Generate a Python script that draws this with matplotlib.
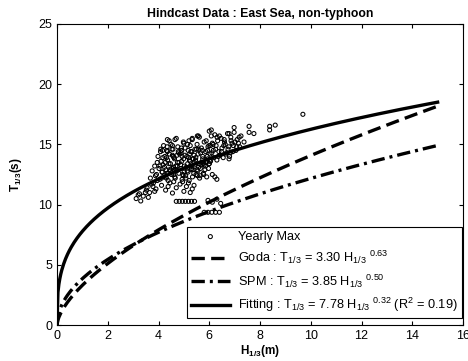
import numpy as np
import matplotlib
matplotlib.use("Agg")
import matplotlib.pyplot as plt

plt.rcParams['font.family'] = ['Liberation Sans', 'DejaVu Sans']
plt.rcParams['mathtext.fontset'] = 'custom'
plt.rcParams['mathtext.rm'] = 'Liberation Sans'
plt.rcParams['mathtext.it'] = 'Liberation Sans:italic'
plt.rcParams['mathtext.bf'] = 'Liberation Sans:bold'

title = "Hindcast Data : East Sea, non-typhoon"

# Yearly maximum (H1/3 [m], T1/3 [s])
yearly_H = [
    # core, lower band
    4.05, 4.22, 4.38, 4.51, 4.66, 4.80, 4.93, 5.07, 5.21, 5.34, 5.48, 5.62, 5.77, 5.90,
    4.15, 4.44, 4.72, 5.01, 5.29, 5.55,
    # core, middle band
    4.02, 4.18, 4.30, 4.47, 4.59, 4.75, 4.88, 5.02, 5.15, 5.30, 5.43, 5.58, 5.70, 5.85, 5.97,
    4.10, 4.36, 4.63, 4.91, 5.19, 5.46, 5.74, 6.02, 4.25, 4.55, 4.84, 5.12, 5.40, 5.66, 5.92,
    4.12, 4.40, 4.68, 4.97, 5.24, 5.52, 5.80, 4.32, 4.60, 4.89, 5.16, 5.37, 5.64, 5.88,
    4.06, 4.14, 4.27, 4.35, 4.43, 4.52, 4.61, 4.69, 4.78, 4.87, 4.96, 5.04, 5.13, 5.22,
    5.31, 5.39, 5.47, 5.56, 5.65, 5.74, 5.83, 5.91,
    4.09, 4.17, 4.26, 4.34, 4.46, 4.53, 4.64, 4.73, 4.81, 4.90, 4.99, 5.08, 5.17, 5.26,
    5.35, 5.44, 5.53, 5.61, 5.69, 5.78, 5.86, 5.94,
    4.24, 4.41, 4.58, 4.74, 4.91, 5.09, 5.23, 5.41, 5.59, 5.76, 5.93, 4.31, 4.62, 4.93,
    5.14, 5.36, 5.68, 5.99,
    # core, upper band
    4.08, 4.33, 4.57, 4.79, 5.05, 5.27, 5.50, 5.73, 5.95, 4.20, 4.49, 4.76, 5.00, 5.25,
    5.52, 5.80, 6.05, 4.42, 4.70, 4.98, 5.33, 5.61, 5.88, 6.12,
    # upper-right extension
    6.05, 6.18, 6.30, 6.42, 6.55, 6.68, 6.80, 6.93, 7.05, 7.20, 6.10, 6.25, 6.38, 6.50,
    6.63, 6.77, 6.90, 7.02, 6.15, 6.33, 6.47, 6.60, 6.85, 7.10, 6.22, 6.40, 6.72, 6.98,
    7.25, 6.08, 6.08, 6.31, 6.59, 6.86, 7.37, 6.00,
    6.03, 6.16, 6.27, 6.36, 6.48, 6.57, 6.66, 6.74, 6.83, 6.95, 7.08, 7.15,
    # left tail
    3.12, 3.25, 3.40, 3.52, 3.65, 3.78, 3.90, 3.30, 3.48, 3.60, 3.72, 3.85, 3.95, 3.20,
    3.55, 3.80, 3.68, 3.92, 3.75, 3.85, 3.95, 3.88, 3.98,
    # lower scatter
    4.12, 4.28, 4.45, 4.55, 4.70, 4.85, 5.00, 5.10, 5.25, 5.40, 4.95, 5.18, 4.60, 4.38, 5.33,
    # rows of low values
    4.70, 4.82, 4.94, 5.06, 5.18, 5.30, 5.42,
    5.95, 6.12, 6.30, 6.45,
    5.80, 5.95, 6.10, 6.25, 6.40,
    6.12, 6.30, 6.22, 6.78, 6.00,
    # top / outliers
    9.69, 8.38, 8.60, 8.38, 7.57, 7.57, 7.76, 6.98, 6.78, 7.18, 4.35, 4.65, 4.16, 4.35,
    4.55, 5.53, 5.20, 5.33, 5.57, 6.00,
]
yearly_T = [
    12.1, 12.4, 12.0, 12.5, 12.2, 12.6, 12.1, 12.4, 12.0, 12.3, 12.5, 12.2, 12.6, 12.3,
    12.7, 12.9, 12.8, 12.7, 12.9, 12.8,
    13.0, 13.3, 12.9, 13.4, 13.1, 13.5, 13.0, 13.2, 13.4, 13.0, 13.3, 13.1, 13.5, 13.2, 13.0,
    13.6, 13.7, 13.8, 13.6, 13.9, 13.7, 13.8, 13.6, 14.0, 14.1, 14.2, 14.0, 14.1, 14.3, 14.0,
    12.2, 12.6, 13.2, 12.4, 13.6, 12.9, 13.3, 13.9, 12.5, 14.3, 12.7, 13.8, 12.4, 13.5,
    13.2, 12.7, 13.5, 12.6, 14.2, 13.0, 13.9, 12.9, 14.4, 13.3, 12.5, 14.1, 12.8, 13.7,
    14.4, 12.6, 13.9, 14.2, 13.0, 14.0, 12.9, 13.6,
    14.6, 13.9, 12.3, 14.8, 12.8, 14.6, 12.3, 14.1, 13.5, 14.7, 13.8, 12.2, 14.5, 13.2,
    13.8, 14.6, 12.4, 13.4, 14.7, 12.5, 14.4, 13.8,
    13.1, 13.4, 14.0, 13.2, 14.5, 13.1, 14.2, 13.5, 14.6, 13.4, 14.5, 12.2, 12.9, 14.0,
    15.0, 12.9, 13.3, 14.9,
    14.4, 14.5, 14.6, 14.3, 14.7, 14.4, 14.6, 14.5, 14.8, 14.9, 15.0, 14.8, 15.1, 14.9,
    15.0, 15.2, 14.9, 15.3, 15.5, 15.2, 15.4, 15.6, 15.3, 15.1,
    13.6, 13.9, 13.7, 14.1, 13.9, 14.3, 14.0, 14.4, 14.5, 14.8, 14.3, 14.6, 14.4, 14.7,
    15.0, 14.8, 15.1, 15.2, 15.0, 15.3, 15.5, 15.2, 15.6, 15.4, 15.8, 15.7, 15.9, 16.0,
    15.7, 16.2, 15.7, 15.6, 15.4, 15.3, 15.2, 13.4,
    14.2, 14.5, 14.9, 14.0, 14.4, 14.9, 14.2, 14.6, 14.3, 14.9, 14.8, 15.1,
    10.5, 10.9, 10.7, 11.2, 11.0, 11.5, 11.3, 10.3, 11.0, 10.6, 11.7, 11.1, 12.0, 10.8,
    11.4, 11.8, 12.2, 12.5, 12.8, 13.2, 13.5, 12.4, 14.0,
    11.6, 11.2, 11.8, 10.96, 11.4, 11.7, 11.1, 11.5, 11.0, 11.6, 11.9, 11.8, 11.9, 11.5, 11.3,
    10.27, 10.27, 10.27, 10.27, 10.27, 10.27, 10.27,
    10.35, 10.2, 10.45, 10.1,
    9.36, 9.36, 9.36, 9.36, 9.36,
    12.5, 12.1, 12.3, 13.8, 13.4,
    17.5, 16.5, 16.6, 16.2, 16.5, 16.0, 15.9, 16.4, 15.9, 15.6, 15.4, 15.4, 14.5, 14.4,
    14.9, 15.7, 15.3, 15.5, 15.7, 16.1,
]

# Empirical formulas T = a * H^b
formula_names = ["Goda", "SPM", "Fitting"]
formula_a = [3.30, 3.85, 7.78]
formula_b = [0.63, 0.50, 0.32]
formula_Hmax = 15.0

xticks = [0, 2, 4, 6, 8, 10, 12, 14, 16]
yticks = [0, 5, 10, 15, 20, 25]

W, H = 468, 361
fig = plt.figure(figsize=(W / 100, H / 100), dpi=100)
L, R, T, B = 57, 463, 24, 325
ax = fig.add_axes([L / W, 1 - B / H, (R - L) / W, (B - T) / H])

h = np.linspace(0.0, formula_Hmax, 400)
styles = [dict(ls=(0, (4.0, 1.9)), lw=2.4),
          dict(ls=(0, (4.0, 1.5, 0.9, 1.5)), lw=2.4),
          dict(ls='-', lw=2.4)]

sc = ax.scatter(yearly_H, yearly_T, s=8.5, facecolors='none', edgecolors='black',
                linewidths=0.75, zorder=3)
lines = []
for name, a, b, st in zip(formula_names, formula_a, formula_b, styles):
    ln, = ax.plot(h, a * h ** b, color='black', zorder=4, **st)
    lines.append(ln)

labels = [
    "Yearly Max",
    r"Goda : T$_{1/3}$ = 3.30 H$_{1/3}$ $^{0.63}$",
    r"SPM : T$_{1/3}$ = 3.85 H$_{1/3}$ $^{0.50}$",
    r"Fitting : T$_{1/3}$ = 7.78 H$_{1/3}$ $^{0.32}$ (R$^2$ = 0.19)",
]
anchor = ((462 - L) / (R - L), (B - 318) / (B - T))
leg = ax.legend([sc] + lines, labels, loc='lower right', bbox_to_anchor=anchor,
                fontsize=9.2, frameon=True, fancybox=False, edgecolor='black',
                framealpha=1, borderaxespad=0, handlelength=3.0, handletextpad=0.7,
                labelspacing=0.48, scatterpoints=1, borderpad=0.3)
leg.get_frame().set_linewidth(0.8)
leg.set_zorder(5)

ax.set_xlim(0, 16)
ax.set_ylim(0, 25)
ax.set_xticks(xticks)
ax.set_yticks(yticks)
ax.tick_params(direction='in', top=True, right=True, labelsize=9, length=3, width=0.8)
for s in ax.spines.values():
    s.set_linewidth(0.8)

ax.set_title(title, fontsize=8.8, fontweight='bold', pad=5)
ax.set_xlabel(r"H$_{\mathbf{1/3}}$(m)", fontsize=8.5, fontweight='bold', labelpad=1)
ax.set_ylabel(r"T$_{\mathbf{1/3}}$(s)", fontsize=8.5, fontweight='bold', labelpad=10)

fig.savefig("out.png", dpi=100)
